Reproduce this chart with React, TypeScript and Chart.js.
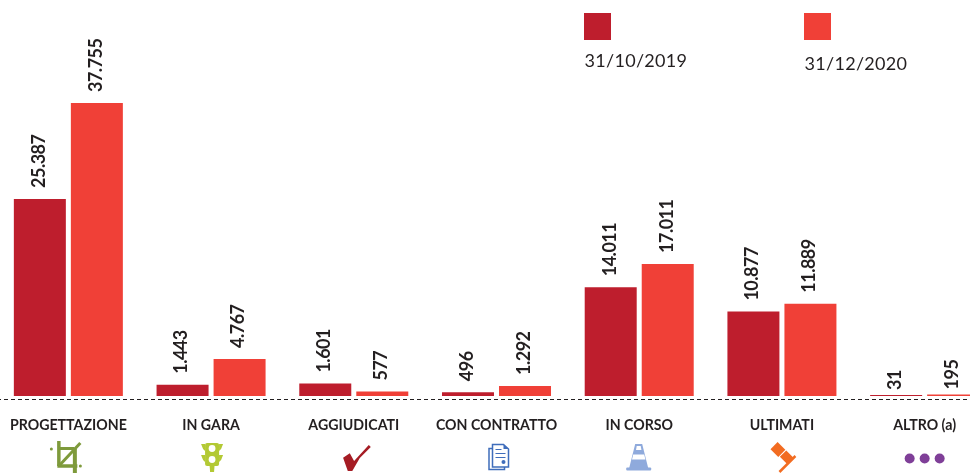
import React, { useEffect, useRef } from "react";
import { Chart, registerables } from "chart.js";

Chart.register(...registerables);

const categories = ["PROGETTAZIONE", "IN GARA", "AGGIUDICATI", "CON CONTRATTO", "IN CORSO", "ULTIMATI", "ALTRO (a)"];
const seriesNames = ["31/10/2019", "31/12/2020"];
const values2019 = [25387, 1443, 1601, 496, 14011, 10877, 31];
const values2020 = [37755, 4767, 577, 1292, 17011, 11889, 195];

const COLORS = ["#be1e2d", "#f04037"];
const TEXT = "#231f20";
const SHIFT = 3;
const LABEL_FONT = "Lato, 'Open Sans', sans-serif";
const fmt = (v: number) => String(v).replace(/\B(?=(\d{3})+$)/g, ".");

type C = CanvasRenderingContext2D;
const poly = (c: C, pts: number[][], fill: string) => {
  c.fillStyle = fill;
  c.beginPath();
  pts.forEach((p, i) => (i ? c.lineTo(p[0], p[1]) : c.moveTo(p[0], p[1])));
  c.closePath();
  c.fill();
};
const line = (c: C, x1: number, y1: number, x2: number, y2: number, col: string, w: number) => {
  c.strokeStyle = col;
  c.lineWidth = w;
  c.beginPath();
  c.moveTo(x1, y1);
  c.lineTo(x2, y2);
  c.stroke();
};
const dot = (c: C, x: number, y: number, r: number, col: string) => {
  c.fillStyle = col;
  c.beginPath();
  c.arc(x, y, r, 0, Math.PI * 2);
  c.fill();
};

const icons: ((c: C, x: number) => void)[] = [
  (c, x) => {
    const g = "#7e9a3b";
    line(c, x - 9.5, 441, x - 9.5, 466, g, 3.5);
    line(c, x - 11, 466, x + 9, 466, g, 3.5);
    line(c, x + 6.5, 449, x + 6.5, 473, g, 4);
    line(c, x - 9, 448.5, x + 6, 448.5, g, 3);
    line(c, x - 9.5, 466, x + 12, 443, g, 3);
    dot(c, x - 17, 449, 1.5, g);
    dot(c, x + 12, 466, 1.5, g);
  },
  (c, x) => {
    const g = "#b3c934";
    const m = x + 1;
    c.fillStyle = g;
    c.beginPath();
    c.roundRect(m - 7, 443, 14, 23, 2);
    c.fill();
    poly(c, [[m - 2.5, 465], [m + 2.5, 465], [m + 2, 472], [m - 2, 472]], g);
    [444, 455].forEach((y) => {
      poly(c, [[m - 11, y], [m - 7, y], [m - 7, y + 7], [m - 9, y + 5]], g);
      poly(c, [[m + 11, y], [m + 7, y], [m + 7, y + 7], [m + 9, y + 5]], g);
    });
    dot(c, m, 448.5, 3.4, "#fff");
    dot(c, m, 459.5, 3.4, "#fff");
  },
  (c, x) => {
    poly(c, [[x - 10.7, 457.7], [x - 4, 453.3], [x + 0.3, 461], [x + 15, 445], [x + 17, 447], [x + 6, 458], [x - 1.5, 471], [x - 6, 471]], "#a51c24");
  },
  (c, x) => {
    const b = "#3f6dbb";
    c.strokeStyle = b;
    c.lineWidth = 1.5;
    c.beginPath();
    c.moveTo(x - 4, 444.5);
    c.lineTo(x + 7, 444.5);
    c.lineTo(x + 12, 449);
    c.lineTo(x + 12, 467);
    c.lineTo(x - 4, 467);
    c.closePath();
    c.stroke();
    c.beginPath();
    c.moveTo(x - 4, 448.5);
    c.lineTo(x - 7.5, 448.5);
    c.lineTo(x - 7.5, 469.5);
    c.lineTo(x + 8, 469.5);
    c.lineTo(x + 8, 467);
    c.stroke();
    poly(c, [[x + 7, 444.5], [x + 12, 449], [x + 7, 449]], b);
    line(c, x - 1, 449.5, x + 5, 449.5, b, 1);
    line(c, x - 1, 453.5, x + 9, 453.5, b, 1);
    line(c, x - 1, 457.5, x + 9, 457.5, b, 1);
    dot(c, x + 7, 462, 2, b);
  },
  (c, x) => {
    const b = "#8faadc";
    const m = x - 0.5;
    c.fillStyle = b;
    c.beginPath();
    c.roundRect(m - 12.5, 467.5, 25, 3, 1);
    c.fill();
    poly(c, [[m - 3.5, 444], [m + 3.5, 444], [m + 9.5, 468], [m - 9.5, 468]], b);
    poly(c, [[m - 2, 446], [m + 2, 446], [m + 2.7, 450], [m - 2.7, 450]], "#fff");
    poly(c, [[m - 5.5, 454.5], [m + 5.5, 454.5], [m + 6.7, 459.5], [m - 6.7, 459.5]], "#fff");
  },
  (c, x) => {
    const o = "#f26c21";
    const block = (bx: number, by: number, w: number, h: number) => {
      c.save();
      c.translate(bx, by);
      c.rotate(Math.PI / 4);
      c.fillStyle = o;
      c.fillRect(-w / 2, -h / 2, w, h);
      c.restore();
    };
    block(x - 4, 449.5, 11, 10);
    block(x + 5, 457.5, 11, 9);
    line(c, x + 13.5, 456, x - 2.5, 472, o, 2.5);
  },
  (c, x) => {
    const p = "#7f3f98";
    dot(c, x - 15, 458.5, 5, p);
    dot(c, x, 458.5, 5, p);
    dot(c, x + 15, 458.5, 5, p);
  },
];

const decorations = {
  id: "decorations",
  afterDatasetsDraw(chart: any) {
    const c: C = chart.ctx;
    c.save();
    c.textAlign = "left";
    c.textBaseline = "middle";
    c.fillStyle = TEXT;
    c.font = `bold 18px ${LABEL_FONT}`;
    (c as any).letterSpacing = "-0.5px";
    chart.data.datasets.forEach((ds: any, d: number) => {
      chart.getDatasetMeta(d).data.forEach((bar: any, i: number) => {
        const gap = ds.data[i] < 200 ? 5 : 11;
        c.save();
        c.translate(bar.x - 1, bar.y - gap);
        c.rotate(-Math.PI / 2);
        c.fillText(fmt(ds.data[i]), 0, 0);
        c.restore();
      });
    });
    (c as any).letterSpacing = "0px";
    c.restore();

    c.save();
    c.translate(SHIFT, 0);
    const xs = [584, 804];
    const ys = [61, 64];
    seriesNames.forEach((name, i) => {
      c.fillStyle = COLORS[i];
      c.fillRect(xs[i], 13, 27, 27);
      c.fillStyle = TEXT;
      c.font = `400 18px ${LABEL_FONT}`;
      c.textAlign = "left";
      c.textBaseline = "middle";
      (c as any).letterSpacing = "0.3px";
      c.fillText(name, xs[i] + 0.5, ys[i]);
      (c as any).letterSpacing = "0px";
    });
    c.restore();

    c.save();
    c.lineCap = "butt";
    const x = chart.scales.x;
    icons.forEach((draw, i) => draw(c, x.getPixelForTick(i)));
    c.restore();
  },
};

export default function App() {
  const ref = useRef<HTMLCanvasElement>(null);
  useEffect(() => {
    document.body.style.margin = "0";
    const chart = new Chart(ref.current!, {
      type: "bar",
      data: {
        labels: categories,
        datasets: [
          { label: seriesNames[0], data: values2019, backgroundColor: COLORS[0], minBarLength: 1 },
          { label: seriesNames[1], data: values2020, backgroundColor: COLORS[1], minBarLength: 1 },
        ],
      },
      options: {
        animation: false,
        responsive: false,
        categoryPercentage: 0.799,
        barPercentage: 0.912,
        layout: { padding: 0 },
        plugins: { legend: { display: false }, tooltip: { enabled: false }, title: { display: false } },
        scales: {
          x: {
            grid: { display: false },
            border: { display: false },
            ticks: {
              color: TEXT,
              font: { family: LABEL_FONT, size: 14.2, weight: "bold" },
              padding: 10,
              maxRotation: 0,
              autoSkip: false,
            },
            afterFit: (s: any) => {
              s.height = 75;
              s.paddingLeft = 0;
              s.paddingRight = 0;
            },
          },
          y: {
            min: -387,
            max: 51031,
            border: { display: false, dash: [4, 3] },
            grid: { color: "#231f20", lineWidth: 1, drawTicks: false },
            ticks: { display: false },
            afterBuildTicks: (s: any) => { s.ticks = [{ value: -387 }]; },
            afterFit: (s: any) => { s.width = 0; },
          },
        },
      } as any,
      plugins: [decorations],
    });
    return () => chart.destroy();
  }, []);
  return (
    <div style={{ position: "relative", width: 970, height: 474, overflow: "hidden" }}>
      <canvas ref={ref} width={999} height={474} style={{ position: "absolute", left: -SHIFT, top: 0, width: 999, height: 474 }} />
    </div>
  );
}
